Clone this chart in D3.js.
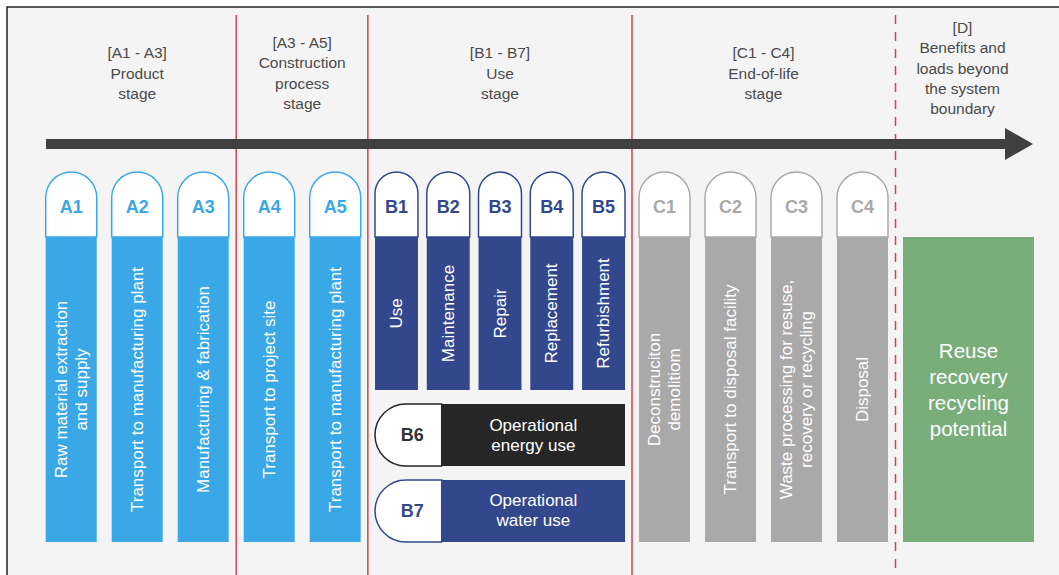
<!DOCTYPE html>
<html lang="en">
<head>
<meta charset="utf-8">
<title>Life cycle stages</title>
<style>
  body { margin: 0; background: #fff; }
  svg { display: block; font-family: "Liberation Sans", Arial, sans-serif; }
  .hdr { fill: #4a4a4a; font-size: 15.5px; }
  .code { font-size: 18px; font-weight: bold; }
  .vlab { fill: #fff; font-size: 17px; }
</style>
</head>
<body>
<div id="container"></div>
<script src="https://cdnjs.cloudflare.com/ajax/libs/d3/7.8.5/d3.min.js"></script>
<script>
// module codes and their texts
const aCodes = ["A1", "A2", "A3", "A4", "A5"];
const aLabels = [
  ["Raw material extraction", "and supply"],
  ["Transport to manufacturing plant"],
  ["Manufacturing & fabrication"],
  ["Transport to project site"],
  ["Transport to manufacturing plant"]
];
const bCodes = ["B1", "B2", "B3", "B4", "B5"];
const bLabels = [["Use"], ["Maintenance"], ["Repair"], ["Replacement"], ["Refurbishment"]];
const bRowCodes = ["B6", "B7"];
const bRowLabels = [["Operational", "energy use"], ["Operational", "water use"]];
const cCodes = ["C1", "C2", "C3", "C4"];
const cLabels = [
  ["Deconstruciton", "demolitiom"],
  ["Transport to disposal facility"],
  ["Waste processing for resuse,", "recovery or recycling"],
  ["Disposal"]
];
const dLabel = ["Reuse", "recovery", "recycling", "potential"];
const stageHeaders = [
  ["[A1 - A3]", "Product", "stage"],
  ["[A3 - A5]", "Construction", "process", "stage"],
  ["[B1 - B7]", "Use", "stage"],
  ["[C1 - C4]", "End-of-life", "stage"],
  ["[D]", "Benefits and", "loads beyond", "the system", "boundary"]
];

const W = 1059, H = 575;
const blue = "#3aa8e6", navy = "#33488c", dark = "#262626", grey = "#a9a9a9", green = "#79ae7b";
const headTop = 172, headBottom = 237, barBottom = 542, bBottom = 390;

const svg = d3.select("#container").append("svg")
  .attr("width", W).attr("height", H);

// panel with top / left border
svg.append("rect").attr("x", 7).attr("y", 7).attr("width", W - 7).attr("height", H - 7)
  .attr("fill", "#f4f4f4");
svg.append("path").attr("d", "M7," + H + "V7H" + W)
  .attr("fill", "none").attr("stroke", "#222").attr("stroke-width", 1.5);

// column scales
const xA = d3.scaleBand().domain(aCodes).range([45.7, 360.7]).paddingInner(0.227);
const xB = d3.scaleBand().domain(bCodes).range([375, 625]).paddingInner(0.17);
const xC = d3.scaleBand().domain(cCodes).range([639, 888]).paddingInner(0.227);
const yRow = d3.scaleBand().domain(bRowCodes).range([404, 542]).paddingInner(0.184);
const dBox = [903, 1034];

function headPath(x, w) {
  const r = w / 2;
  return "M" + x + "," + headBottom + "V" + (headTop + r) +
    "A" + r + "," + r + " 0 0 1 " + (x + w) + "," + (headTop + r) +
    "V" + headBottom + "Z";
}

function columns(codes, labels, scale, color, bottom, codeColor) {
  const g = svg.append("g").selectAll("g").data(codes).enter().append("g");
  g.append("rect")
    .attr("x", d => scale(d)).attr("width", scale.bandwidth())
    .attr("y", headBottom).attr("height", bottom - headBottom)
    .attr("fill", color);
  g.append("path")
    .attr("d", d => headPath(scale(d), scale.bandwidth()))
    .attr("fill", "#fff").attr("stroke", color).attr("stroke-width", 1.5);
  g.append("text").attr("class", "code")
    .attr("x", d => scale(d) + scale.bandwidth() / 2).attr("y", headTop + 35)
    .attr("text-anchor", "middle").attr("dominant-baseline", "central")
    .attr("fill", codeColor).text(d => d);
  const t = g.append("text").attr("class", "vlab")
    .attr("text-anchor", "middle")
    .attr("transform", d => "translate(" + (scale(d) + scale.bandwidth() / 2) + "," +
      ((headBottom + bottom) / 2) + ") rotate(-90)");
  t.selectAll("tspan").data((d, i) => labels[i].map((s, k, a) => ({ s: s, dy: (k - (a.length - 1) / 2) * 20 })))
    .enter().append("tspan")
    .attr("x", 0).attr("y", d => d.dy).attr("dominant-baseline", "central")
    .text(d => d.s);
}

columns(aCodes, aLabels, xA, blue, barBottom, blue);
columns(bCodes, bLabels, xB, navy, bBottom, navy);
columns(cCodes, cLabels, xC, grey, barBottom, grey);

// B6 / B7 rows
const rowX0 = xB.range()[0], rowX1 = xB.range()[1], rowSplit = 441.7;
const rowColors = [dark, navy];
const rows = svg.append("g").selectAll("g").data(bRowCodes).enter().append("g");
rows.append("rect")
  .attr("x", rowSplit).attr("width", rowX1 - rowSplit)
  .attr("y", d => yRow(d)).attr("height", yRow.bandwidth())
  .attr("fill", (d, i) => rowColors[i]);
rows.append("path")
  .attr("d", d => {
    const y0 = yRow(d), h = yRow.bandwidth(), r = h / 2;
    return "M" + rowSplit + "," + y0 + "H" + (rowX0 + r) +
      "A" + r + "," + r + " 0 0 0 " + (rowX0 + r) + "," + (y0 + h) +
      "H" + rowSplit + "Z";
  })
  .attr("fill", "#fff").attr("stroke", (d, i) => rowColors[i]).attr("stroke-width", 1.5);
rows.append("text").attr("class", "code")
  .attr("x", (rowX0 + rowSplit) / 2 + 4).attr("y", d => yRow(d) + yRow.bandwidth() / 2)
  .attr("text-anchor", "middle").attr("dominant-baseline", "central")
  .attr("fill", (d, i) => i === 0 ? "#333" : navy).text(d => d);
rows.append("text").attr("class", "vlab")
  .attr("text-anchor", "middle")
  .selectAll("tspan").data((d, i) => bRowLabels[i].map((s, k) => ({ s: s, y: yRow(d) + yRow.bandwidth() / 2 + (k - 0.5) * 20 })))
  .enter().append("tspan")
  .attr("x", (rowSplit + rowX1) / 2).attr("y", d => d.y).attr("dominant-baseline", "central")
  .text(d => d.s);

// D box
svg.append("rect").attr("x", dBox[0]).attr("width", dBox[1] - dBox[0])
  .attr("y", headBottom).attr("height", barBottom - headBottom).attr("fill", green);
svg.append("text").attr("fill", "#fff").attr("font-size", 20.5).attr("text-anchor", "middle")
  .selectAll("tspan").data(dLabel).enter().append("tspan")
  .attr("x", (dBox[0] + dBox[1]) / 2)
  .attr("y", (d, i) => (headBottom + barBottom) / 2 + (i - 1.5) * 26)
  .attr("dominant-baseline", "central").text(d => d);

// stage dividers between column groups
const dividers = [
  (xA("A3") + xA.bandwidth() + xA("A4")) / 2,
  (xA("A5") + xA.bandwidth() + xB("B1")) / 2,
  (xB("B5") + xB.bandwidth() + xC("C1")) / 2,
  (xC("C4") + xC.bandwidth() + dBox[0]) / 2
];
svg.append("g").selectAll("line").data(dividers).enter().append("line")
  .attr("x1", d => d).attr("x2", d => d).attr("y1", 15).attr("y2", H)
  .attr("stroke", "#d4424e").attr("stroke-width", 1.5)
  .attr("stroke-dasharray", (d, i) => i === 3 ? "9,8" : null);

// arrow
svg.append("rect").attr("x", 46).attr("y", 139).attr("width", 960).attr("height", 10).attr("fill", "#404040");
svg.append("path").attr("d", "M1005,128L1033,144L1005,160Z").attr("fill", "#404040");

// stage headers
const spans = [
  [xA("A1"), xA("A3") + xA.bandwidth()],
  [xA("A4"), xA("A5") + xA.bandwidth()],
  [xB("B1"), xB("B5") + xB.bandwidth()],
  [xC("C1"), xC("C4") + xC.bandwidth()],
  [dBox[0] - 6, dBox[1] - 6]
];
const hdr = svg.append("g").selectAll("text").data(stageHeaders).enter().append("text")
  .attr("class", "hdr").attr("text-anchor", "middle");
hdr.selectAll("tspan").data((d, i) => d.map((s, k) => ({
    s: s, x: (spans[i][0] + spans[i][1]) / 2,
    y: (i === 4 ? 68 : 73) + (k - (d.length - 1) / 2) * 20.3
  })))
  .enter().append("tspan")
  .attr("x", d => d.x).attr("y", d => d.y).attr("dominant-baseline", "central")
  .text(d => d.s);
</script>
</body>
</html>
